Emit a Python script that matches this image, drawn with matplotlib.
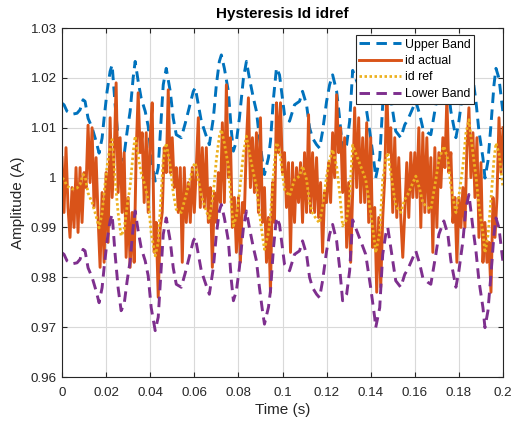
import numpy as np
import matplotlib
matplotlib.use("Agg")
import matplotlib.pyplot as plt
from matplotlib.ticker import FuncFormatter

plt.rcParams['font.family'] = ['Liberation Sans', 'DejaVu Sans']

# ---- data -------------------------------------------------------------
# time samples for the reference / band curves (ms)
ref_t_ms = [0.00, 0.91, 2.27, 4.55, 6.82, 8.18, 9.55, 10.45, 11.82, 13.64,
            15.45, 16.82, 18.18, 19.09, 20.45, 21.82, 22.73, 24.09, 25.45, 26.82,
            28.18, 29.55, 30.91, 32.27, 33.18, 34.55, 35.91, 37.73, 39.09, 40.45,
            42.27, 43.64, 45.00, 45.91, 47.27, 49.09, 50.45, 51.82, 54.09, 55.91,
            57.27, 59.55, 60.45, 61.82, 63.18, 65.45, 66.82, 68.64, 70.00, 71.36,
            72.27, 73.64, 75.45, 76.82, 77.73, 79.09, 80.45, 82.27, 83.64, 85.00,
            86.82, 88.18, 89.55, 90.91, 91.82, 93.64, 94.55, 95.91, 97.27, 98.64,
            100.91, 103.18, 105.45, 107.73, 109.09, 110.91, 112.27, 113.64, 115.45, 116.82,
            118.18, 120.00, 121.36, 122.73, 124.55, 125.91, 127.27, 129.09, 130.45, 131.82,
            133.18, 135.45, 137.73, 140.00, 141.82, 142.27, 144.09, 145.45, 146.82, 147.73,
            148.64, 150.00, 151.36, 153.64, 155.45, 156.82, 159.09, 160.45, 162.27, 163.64,
            165.91, 167.27, 169.55, 170.91, 173.18, 175.00, 176.36, 178.64, 180.00, 181.82,
            183.18, 184.55, 186.36, 187.73, 189.09, 190.91, 191.82, 193.18, 194.55, 195.91,
            196.82, 198.18, 200.00]
# lower band values (A)
lower_band = [0.9849, 0.9846, 0.9833, 0.9827, 0.9829, 0.9836, 0.9856, 0.9853, 0.9819, 0.9800,
              0.9773, 0.9749, 0.9779, 0.9819, 0.9873, 0.9913, 0.9926, 0.9846, 0.9779, 0.9733,
              0.9746, 0.9793, 0.9833, 0.9900, 0.9933, 0.9893, 0.9859, 0.9833, 0.9803, 0.9739,
              0.9693, 0.9720, 0.9819, 0.9886, 0.9919, 0.9873, 0.9819, 0.9786, 0.9780, 0.9809,
              0.9833, 0.9873, 0.9880, 0.9846, 0.9813, 0.9783, 0.9766, 0.9819, 0.9886, 0.9933,
              0.9946, 0.9919, 0.9873, 0.9793, 0.9753, 0.9773, 0.9819, 0.9899, 0.9933, 0.9899,
              0.9859, 0.9833, 0.9779, 0.9733, 0.9706, 0.9740, 0.9773, 0.9859, 0.9920, 0.9906,
              0.9826, 0.9813, 0.9846, 0.9853, 0.9873, 0.9846, 0.9800, 0.9779, 0.9766, 0.9759,
              0.9793, 0.9853, 0.9886, 0.9906, 0.9873, 0.9819, 0.9753, 0.9766, 0.9813, 0.9915,
              0.9899, 0.9873, 0.9846, 0.9779, 0.9719, 0.9699, 0.9739, 0.9846, 0.9886, 0.9900,
              0.9873, 0.9833, 0.9793, 0.9780, 0.9806, 0.9816, 0.9839, 0.9853, 0.9826, 0.9799,
              0.9790, 0.9786, 0.9846, 0.9886, 0.9913, 0.9886, 0.9833, 0.9780, 0.9813, 0.9873,
              0.9939, 0.9966, 0.9899, 0.9853, 0.9793, 0.9739, 0.9699, 0.9733, 0.9806, 0.9886,
              0.9919, 0.9899, 0.9830]
band_half_width = 0.015

# measured current id (221 samples over 0..0.2 s)
id_actual = [
    1.004, 0.993, 1.006, 0.994, 0.988, 0.998, 0.990, 1.002, 0.989, 1.002,
    0.991, 1.001, 0.998, 1.0105, 0.999, 1.010, 0.994, 1.004, 0.992, 0.982,
    0.997, 0.983, 1.001, 0.987, 1.012, 0.996, 1.004, 1.019, 0.997, 1.008,
    0.993, 1.005, 0.984, 0.996, 0.982, 0.993, 0.983, 1.005, 1.017, 1.005,
    1.009, 0.995, 1.009, 0.993, 1.008, 1.015, 0.985, 0.991, 0.976, 0.990,
    0.993, 1.006, 1.001, 1.0176, 1.001, 1.008, 0.998, 1.002, 0.993, 1.002,
    0.983, 1.002, 0.991, 0.999, 0.991, 1.002, 0.993, 1.002, 1.012, 0.994,
    1.006, 0.994, 1.006, 0.991, 0.998, 0.982, 0.997, 0.991, 1.001, 0.995,
    1.011, 0.995, 1.0186, 1.000, 1.008, 0.990, 0.996, 0.985, 0.996, 0.983,
    0.995, 0.993, 1.007, 1.016, 0.998, 1.008, 0.997, 1.009, 0.993, 1.012,
    0.991, 0.998, 0.983, 0.992, 0.977, 0.999, 0.991, 1.015, 1.005, 1.015,
    1.001, 1.005, 0.994, 1.003, 0.985, 1.003, 0.991, 1.002, 0.995, 1.003,
    0.991, 1.005, 0.993, 1.0126, 0.993, 1.005, 0.993, 1.004, 0.992, 0.999,
    0.985, 0.997, 0.995, 1.003, 0.995, 1.009, 1.000, 1.0166, 1.005, 1.010,
    0.997, 1.008, 0.986, 0.999, 0.983, 0.997, 1.014, 0.998, 1.012, 0.995,
    1.008, 0.995, 1.011, 0.991, 1.008, 0.986, 0.994, 0.977, 0.992, 0.978,
    0.992, 1.000, 1.018, 1.005, 1.010, 0.993, 1.008, 0.992, 1.004, 0.992,
    0.984, 0.993, 1.003, 0.992, 1.005, 0.996, 1.005, 0.996, 1.010, 0.990,
    1.009, 0.993, 1.008, 0.993, 1.004, 0.985, 1.006, 0.990, 1.005, 0.998,
    1.008, 1.002, 1.016, 1.001, 1.005, 0.991, 0.996, 0.983, 0.996, 0.990,
    0.998, 0.990, 1.006, 1.014, 1.000, 1.009, 0.996, 1.008, 0.988, 1.003,
    0.983, 0.991, 0.983, 0.987, 0.977, 0.996, 0.988, 0.996, 1.012, 1.001,
    1.010]

title = "Hysteresis Id idref"
xlabel = "Time (s)"
ylabel = "Amplitude (A)"
legend_labels = ["Upper Band", "id actual", "id ref", "Lower Band"]
xticks = [0, 0.02, 0.04, 0.06, 0.08, 0.1, 0.12, 0.14, 0.16, 0.18, 0.2]
yticks = [0.96, 0.97, 0.98, 0.99, 1.0, 1.01, 1.02, 1.03]

# ---- derived ------------------------------------------------------------
t_ref = np.array(ref_t_ms) / 1000.0
lower = np.array(lower_band)
ref = lower + band_half_width
upper = lower + 2 * band_half_width
t_act = np.linspace(0, 0.2, len(id_actual))

# ---- figure ---------------------------------------------------------------
fig = plt.figure(figsize=(5.11, 4.24), dpi=100)
ax = fig.add_axes([62/511, 1-377/424, 441/511, 349/424])

c_up, c_act, c_ref, c_low = '#0072BD', '#D95319', '#EDB120', '#7E2F8E'
ax.plot(t_ref, upper, color=c_up, lw=2.1, linestyle=(0, (3.6, 2.2)), label=legend_labels[0])
ax.plot(t_act, id_actual, color=c_act, lw=2.1, label=legend_labels[1])
ax.plot(t_ref, ref, color=c_ref, lw=2.0, linestyle=(0, (0.9, 0.9)), label=legend_labels[2])
ax.plot(t_ref, lower, color=c_low, lw=2.1, linestyle=(0, (3.6, 2.2)), label=legend_labels[3])

ax.set_xlim(0, 0.2)
ax.set_ylim(0.96, 1.03)
ax.set_xticks(xticks)
ax.set_yticks(yticks)
fmt = FuncFormatter(lambda v, p: ('%g' % round(v, 4)))
ax.xaxis.set_major_formatter(fmt)
ax.yaxis.set_major_formatter(fmt)

ax.grid(True, color='#d9d9d9', lw=0.8)
ax.set_axisbelow(True)
for s in ax.spines.values():
    s.set_color('#262626')
    s.set_linewidth(0.8)
ax.tick_params(direction='in', length=3.5, width=0.8, colors='#262626',
               top=True, right=True, labelsize=9.6)
ax.tick_params(axis='x', pad=7)
ax.tick_params(axis='y', pad=3.8)

ax.set_title(title, fontsize=11, fontweight='bold', pad=7)
ax.set_xlabel(xlabel, fontsize=11, color='#262626', labelpad=3)
ax.set_ylabel(ylabel, fontsize=11, color='#262626', labelpad=4)

leg = ax.legend(loc='upper right', bbox_to_anchor=((474 - 62) / 441, (377 - 35) / 349),
                borderaxespad=0, fontsize=8.8, frameon=True, fancybox=False,
                framealpha=1, edgecolor='#262626', handlelength=3.4,
                handletextpad=0.3, labelspacing=0.36, borderpad=0.3)
leg.get_frame().set_linewidth(0.8)

fig.savefig('out.png', dpi=100)
